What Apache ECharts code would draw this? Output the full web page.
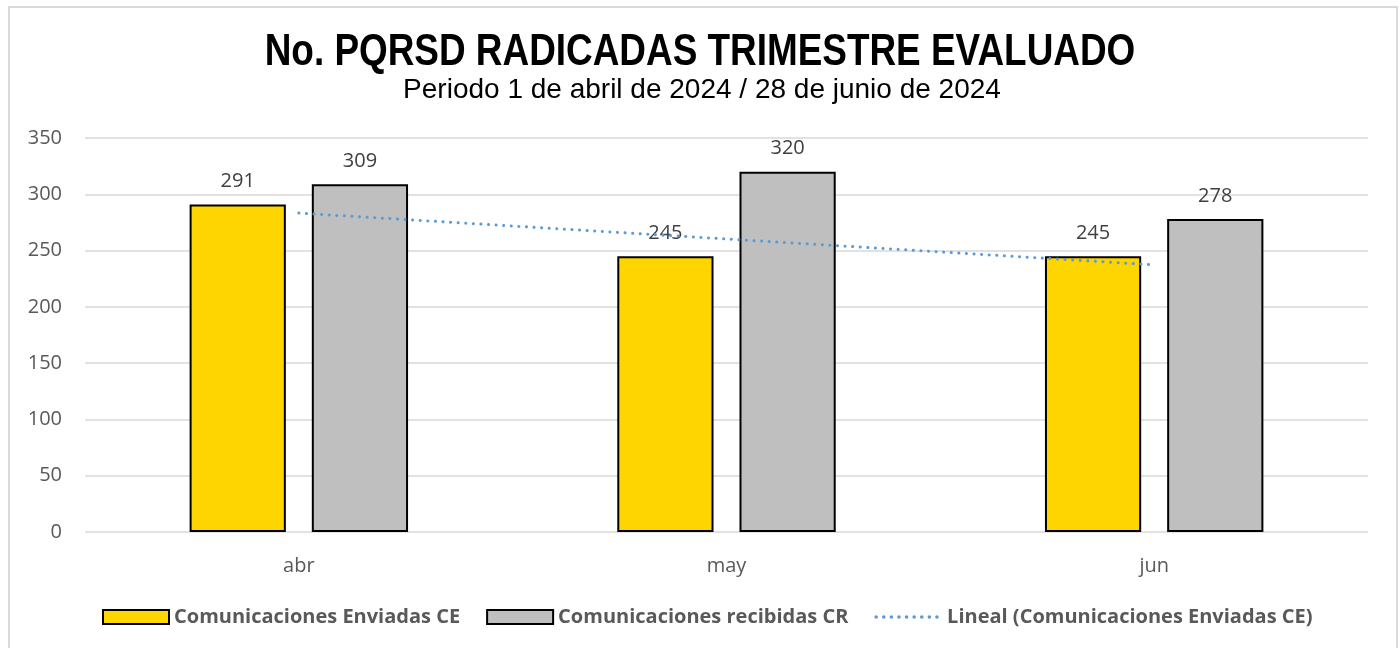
<!DOCTYPE html>
<html>
<head>
<meta charset="utf-8">
<script src="https://cdn.jsdelivr.net/npm/echarts@6/dist/echarts.min.js"></script>
<style>
  html, body { margin: 0; padding: 0; background: #fff; }
  #frame { position: absolute; left: 8px; top: 6px; width: 1390px; height: 660px; border: 2px solid #d9d9d9; box-sizing: border-box; }
  #main { position: absolute; left: 0; top: 0; width: 1400px; height: 648px; }
</style>
</head>
<body>
<div id="frame"></div>
<div id="main"></div>
<script>
// datos del trimestre
const meses = ['abr', 'may', 'jun'];
const enviadas = [291, 245, 245];
const recibidas = [309, 320, 278];
const tendencia = [283.3, 260.3, 237.3]; // lineal (Enviadas)
const ticksY = [0, 50, 100, 150, 200, 250, 300, 350];

const chart = echarts.init(document.getElementById('main'));
const labelFont = 'Open Sans, Noto Sans, sans-serif';

chart.setOption({
  animation: false,
  // titulo en fuente estrecha (escalado horizontal)
  graphic: [
    {
      type: 'text',
      x: 700,
      y: 53,
      scaleX: 0.82,
      style: {
        text: 'No. PQRSD RADICADAS TRIMESTRE EVALUADO',
        font: 'bold 45px "Liberation Sans", Arial',
        fill: '#000',
        textAlign: 'center',
        textVerticalAlign: 'middle'
      }
    },
    {
      type: 'text',
      x: 702,
      y: 90,
      style: {
        text: 'Periodo 1 de abril de 2024 / 28 de junio de 2024',
        font: '28px "Liberation Sans", Arial',
        fill: '#000',
        textAlign: 'center',
        textVerticalAlign: 'middle'
      }
    }
  ],
  grid: { left: 85, right: 32, top: 138, bottom: 116 },
  legend: {
    bottom: 16,
    left: 97,
    itemWidth: 66,
    itemHeight: 14,
    itemGap: 26,
    textStyle: { fontFamily: labelFont, fontWeight: 'bold', fontSize: 20, color: '#595959' },
    data: [
      { name: 'Comunicaciones Enviadas CE', icon: 'rect' },
      { name: 'Comunicaciones recibidas CR', icon: 'rect' },
      { name: 'Lineal (Comunicaciones Enviadas CE)', itemStyle: { opacity: 0 }, lineStyle: { width: 3.5 } }
    ]
  },
  xAxis: {
    type: 'category',
    data: meses,
    axisLine: { show: false },
    axisTick: { show: false },
    axisLabel: { fontFamily: labelFont, fontSize: 20, color: '#595959', margin: 24 }
  },
  yAxis: {
    type: 'value',
    min: ticksY[0],
    max: ticksY[ticksY.length - 1],
    interval: 50,
    axisLabel: { fontFamily: labelFont, fontSize: 20, color: '#595959', margin: 23 },
    splitLine: { lineStyle: { color: '#d9d9d9', width: 1.5 } }
  },
  series: [
    {
      name: 'Comunicaciones Enviadas CE',
      type: 'bar',
      data: enviadas,
      barWidth: '22.5%',
      barGap: '27%',
      itemStyle: { color: '#FFD500', borderColor: '#000', borderWidth: 2 },
      label: { show: true, position: 'top', distance: 13, fontFamily: labelFont, fontSize: 20, color: '#404040' }
    },
    {
      name: 'Comunicaciones recibidas CR',
      type: 'bar',
      data: recibidas,
      barWidth: '22.5%',
      itemStyle: { color: '#BFBFBF', borderColor: '#000', borderWidth: 2 },
      label: { show: true, position: 'top', distance: 13, fontFamily: labelFont, fontSize: 20, color: '#404040' }
    },
    {
      name: 'Lineal (Comunicaciones Enviadas CE)',
      type: 'line',
      data: tendencia,
      symbol: 'none',
      z: 5,
      itemStyle: { color: '#5B9BD5' },
      lineStyle: { color: '#5B9BD5', width: 3, type: [0.1, 7.5], cap: 'round' }
    }
  ]
});
</script>
</body>
</html>
